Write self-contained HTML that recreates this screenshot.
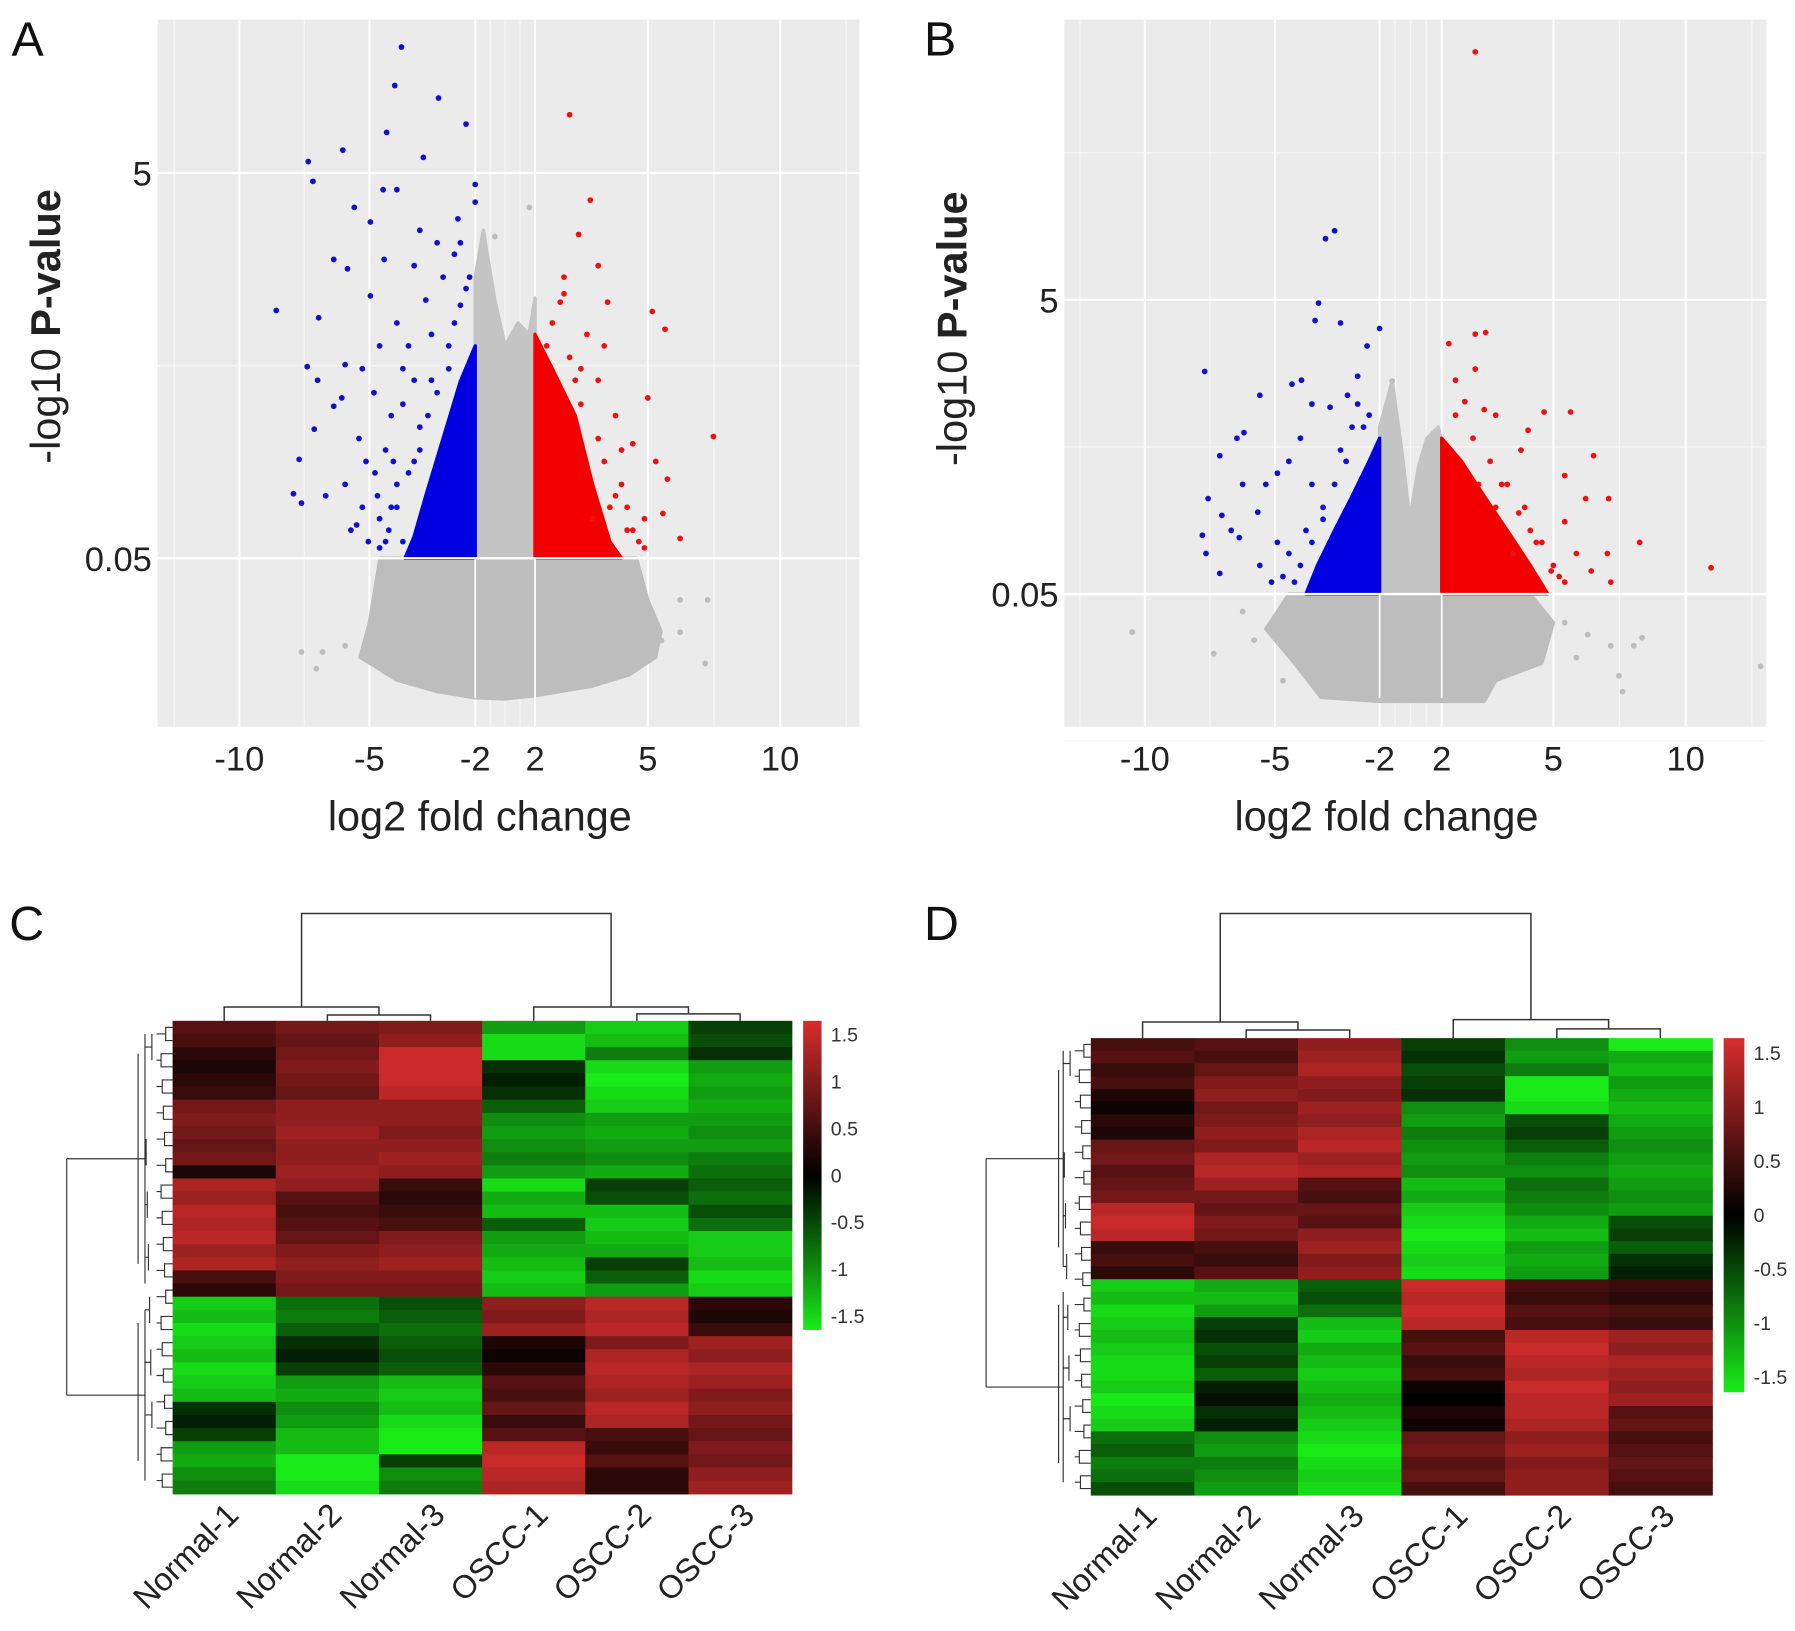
<!DOCTYPE html>
<html><head><meta charset="utf-8">
<style>
html,body{margin:0;padding:0;background:#fff;}
svg{display:block;font-family:"Liberation Sans",Arial,sans-serif;}
</style></head>
<body>
<svg id="fig" width="1795" height="1631" viewBox="0 0 1560 1414" preserveAspectRatio="none" xmlns="http://www.w3.org/2000/svg"></svg>
<script>
// ---------- Volcano A data ----------
const aXTickVals = [-10,-5,-2,2,5,10];
const aXTickLabels = ["-10","-5","-2","2","5","10"];
const aYTickVals = [1.3,5];
const aYTickLabels = ["0.05","5"];
const aBlueFc = [-4.09,-4.28,-3.04,-2.26,-4.51,-3.47,-7.35,-6.02,-7.17,-4.22,-4.61,-5.58,-2.0,-2.0,-4.97,-3.57,-3.08,-6.37,-5.84,-4.58,-6.95,-8.58,-4.97,-2.59,-7.39,-5.93,-6.99,-6.37,-6.06,-7.12,-7.70,-7.92,-7.61,-6.68,-5.27,-4.71,-4.22,-5.40,-4.84,-4.38,-5.04,-5.93,-4.05,-3.89,-3.40,-2.91,-2.49,-2.26,-3.73,-4.54,-4.22,-3.73,-4.71,-5.49,-3.24,-2.75,-4.38,-4.87,-3.57,-4.05,-4.54,
  -2.59,-2.42,-2.16,-2.75,-3.08,-3.34,-3.57,-3.89,-4.22,-4.45,-4.71,-3.73,-4.05,-4.32,-4.77,-5.27,-5.71,-5.13,-3.24,-2.42];
const aBlueP  = [6.21,5.84,5.72,5.47,5.39,5.15,5.11,5.22,4.92,4.84,4.84,4.67,4.89,4.72,4.53,4.45,4.33,4.17,4.08,4.17,3.61,3.68,3.82,4.22,3.14,3.16,3.01,2.76,2.84,2.54,2.25,1.92,1.83,1.90,3.12,3.34,3.56,2.45,2.12,1.79,1.46,2.01,2.78,3.34,3.78,4.00,4.56,3.89,4.11,2.34,2.01,2.23,1.68,1.62,3.01,3.34,2.67,2.89,2.56,1.46,1.46,
  3.56,3.73,4.0,3.12,2.89,2.67,2.34,2.12,1.79,1.57,1.40,3.01,3.12,2.23,1.90,1.79,1.57,2.23,3.45,4.33];
const aRedFc = [2.92,3.47,3.16,3.68,2.77,2.67,3.93,5.17,5.65,3.38,3.84,5.0,7.48,4.60,5.30,5.74,4.91,5.57,6.22,4.30,3.99,4.45,4.76,4.14,3.68,3.22,4.30,
  2.46,2.31,2.92,3.07,3.22,3.68,3.84,4.14,4.45,4.60,4.91,3.53,2.77];
const aRedP  = [5.56,4.74,4.41,4.11,3.84,3.76,3.76,3.67,3.50,3.45,3.34,2.84,2.47,2.40,2.23,2.06,1.68,1.73,1.49,2.01,1.79,1.57,1.46,2.67,3.01,3.12,2.34,
  3.56,3.34,3.23,3.01,2.78,2.45,2.23,1.90,1.79,1.57,1.40,1.68,4.00];
const aGrayFc = [1.62,-0.69,7.26,7.17,-7.61,-7.04,6.22,5.30,-6.8,-5.93,4.91,5.52,6.22];
const aGrayP  = [4.67,4.39,0.9,0.29,0.4,0.24,0.59,0.6,0.4,0.46,0.9,0.51,0.9];
const aBlueDense = [[-2,1.3],[-2,3.34],[-2.42,3.0],[-2.91,2.45],[-3.4,1.9],[-3.73,1.51],[-3.99,1.3]];
const aRedDense = [[2,1.3],[2,3.45],[2.46,3.12],[3.07,2.67],[3.53,2.01],[3.99,1.46],[4.3,1.3]];
const aGrayCenter = [[-2,1.3],[-2,4.0],[-1.46,4.45],[-0.69,3.78],[0,3.34],[0.85,3.56],[1.6,3.45],[2,3.8],[2,1.3]];
const aGrayBottom = [[-4.7,1.3],[-5.0,0.68],[-5.36,0.35],[-4.22,0.13],[-3.08,0.02],[-2,-0.04],[0,-0.05],[2,-0.02],[3.5,0.07],[4.5,0.18],[5.3,0.35],[5.5,0.6],[5.0,0.9],[4.7,1.3]];

// ---------- Volcano B data ----------
const bXTickVals = [-10,-5,-2,2,5,10];
const bXTickLabels = ["-10","-5","-2","2","5","10"];
const bYTickVals = [1.3,5];
const bYTickLabels = ["0.05","5"];
const bBlueFc = [-3.29,-3.55,-3.75,-3.85,-3.12,-2.0,-2.36,-7.70,-2.63,-4.24,-4.51,-5.58,-2.92,-3.42,-3.94,-6.19,-7.12,-6.46,-7.57,-7.04,-7.65,-7.79,-7.12,-6.37,-5.66,-5.35,-4.93,-4.60,-4.27,-3.94,-3.62,-4.93,-5.58,-4.60,-4.11,-3.12,-2.79,-2.30,-6.24,-6.68,
  -2.46,-2.96,-3.29,-3.62,-3.94,-4.27,-4.44,-4.77,-5.13,-2.63];
const bBlueP  = [5.87,5.77,4.96,4.74,4.71,4.64,4.42,4.10,4.04,3.99,3.94,3.80,3.80,3.65,3.69,3.33,3.04,3.26,2.50,2.29,1.81,2.04,1.56,2.01,2.33,2.68,2.82,2.97,3.26,2.68,2.24,1.95,1.66,1.81,2.10,3.11,3.40,3.55,2.68,2.10,
  3.40,2.97,2.68,2.39,1.95,1.66,1.45,1.52,1.45,3.69];
const bRedFc = [2.90,2.90,3.18,2.19,2.90,2.37,2.62,3.14,3.45,4.75,5.65,4.32,4.13,6.52,5.43,7.09,6.22,5.43,8.26,7.04,10.96,5.87,4.94,6.43,7.17,4.69,4.23,3.76,4.38,3.92,5.22,
  2.37,2.84,3.30,3.61,4.07,4.54,5.0,5.43,3.45,2.99];
const bRedP  = [8.12,4.57,4.59,4.45,4.13,3.99,3.72,3.62,3.55,3.59,3.59,3.36,3.11,3.04,2.79,2.50,2.50,2.21,1.95,1.81,1.63,1.81,1.59,1.59,1.45,1.95,2.39,2.68,2.10,1.81,1.52,
  3.55,3.26,2.97,2.68,2.32,1.95,1.66,1.45,2.39,2.68];
const bGrayFc = [-10.49,-7.35,8.35,12.83,7.48,8.04,5.43,-6.24,5.87,-1.19,-5.8,-4.77,6.3,7.17,7.61];
const bGrayP  = [0.82,0.55,0.75,0.39,0.27,0.65,0.94,1.08,0.5,3.98,0.72,0.21,0.79,0.65,0.07];
const bBlueDense = [[-2,1.3],[-2,3.26],[-2.30,2.97],[-2.79,2.53],[-3.29,2.10],[-3.78,1.66],[-4.11,1.3]];
const bRedDense = [[2,1.3],[2,3.26],[2.53,2.97],[3.14,2.53],[3.76,2.10],[4.38,1.66],[4.85,1.3]];
const bGrayCenter = [[-2,1.3],[-2,3.4],[-1.19,3.98],[-0.5,3.0],[-0.07,2.24],[0.5,2.9],[1.04,3.26],[1.78,3.40],[2,3.2],[2,1.3]];
const bGrayBottom = [[-4.60,1.3],[-5.35,0.86],[-4.44,0.43],[-3.68,0.0],[-2,-0.05],[2,-0.05],[3.14,-0.05],[3.45,0.21],[4.69,0.43],[5.0,0.94],[4.38,1.3]];

// ---------- Heatmap data ----------
const samples = ["Normal-1","Normal-2","Normal-3","OSCC-1","OSCC-2","OSCC-3"];
const cbTicks = [1.5,1,0.5,0,-0.5,-1,-1.5];
const cN1 = [0.6,0.5,0.3,0.2,0.3,0.4,0.8,0.9,0.8,0.7,0.8,0.2,1.2,1.1,1.3,1.2,1.3,1.1,1.2,0.5,0.3,-1.3,-1.2,-1.4,-1.3,-1.2,-1.4,-1.3,-1.2,-0.3,-0.2,-0.4,-1.0,-1.1,-0.9,-0.8];
const cN2 = [0.8,0.7,0.8,0.9,0.8,0.7,1.0,1.0,1.1,1.0,1.0,1.1,1.0,0.6,0.5,0.6,0.7,0.9,1.0,0.9,0.8,-0.7,-0.8,-0.6,-0.3,-0.2,-0.4,-1.0,-1.1,-0.9,-1.0,-1.2,-1.2,-1.5,-1.5,-1.4];
const cN3 = [0.9,1.0,1.4,1.4,1.4,1.3,1.0,1.0,0.9,1.0,1.1,1.0,0.4,0.3,0.4,0.5,0.9,1.0,1.1,0.9,0.8,-0.5,-0.6,-0.7,-0.6,-0.5,-0.6,-1.2,-1.3,-1.2,-1.4,-1.5,-1.5,-0.4,-0.9,-0.8];
const cO1 = [-1.0,-1.4,-1.4,-0.3,-0.2,-0.3,-0.6,-0.9,-1.0,-0.9,-0.8,-1.0,-1.4,-1.1,-1.2,-0.6,-1.0,-1.1,-1.2,-1.3,-1.2,1.0,0.9,1.1,0.2,0.1,0.3,0.6,0.5,0.7,0.4,0.6,1.3,1.4,1.3,1.2];
const cO2 = [-1.3,-1.2,-0.8,-1.4,-1.5,-1.4,-1.3,-1.0,-1.1,-1.0,-0.9,-1.1,-0.4,-0.5,-1.2,-1.3,-1.2,-1.1,-0.4,-0.6,-1.0,1.3,1.2,1.3,0.9,1.2,1.3,1.2,1.1,1.3,1.2,0.5,0.4,0.6,0.3,0.3];
const cO3 = [-0.4,-0.5,-0.3,-1.0,-1.1,-1.0,-1.1,-1.0,-0.9,-1.0,-0.8,-0.7,-0.6,-0.7,-0.5,-0.7,-1.3,-1.3,-1.2,-1.4,-1.3,0.3,0.2,0.4,1.1,1.0,1.2,1.1,0.9,1.0,0.8,0.7,0.9,0.8,1.0,1.1];
const dN1 = [0.5,0.6,0.4,0.5,0.2,0.1,0.3,0.2,0.7,0.8,0.6,0.7,0.8,1.3,1.4,1.3,0.4,0.5,0.3,-1.3,-1.2,-1.4,-1.3,-1.2,-1.3,-1.4,-1.4,-1.3,-1.5,-1.4,-1.3,-0.7,-0.6,-0.8,-0.7,-0.5];
const dN2 = [0.6,0.5,0.7,0.9,1.0,0.8,0.9,1.0,0.9,1.2,1.3,1.1,0.8,0.7,0.9,0.8,0.5,0.4,0.6,-1.1,-1.2,-1.0,-0.4,-0.3,-0.5,-0.4,-0.6,-0.2,-0.1,-0.3,-0.2,-0.9,-1.0,-0.8,-0.9,-1.0];
const dN3 = [1.0,1.1,1.2,1.0,0.9,1.1,1.0,1.2,1.3,1.1,1.2,0.6,0.5,0.7,0.6,1.0,1.1,0.9,1.0,-0.6,-0.5,-0.7,-1.2,-1.3,-1.1,-1.2,-1.3,-1.2,-1.1,-1.2,-1.3,-1.4,-1.5,-1.4,-1.3,-1.4];
const dO1 = [-0.4,-0.3,-0.5,-0.4,-0.3,-0.9,-1.0,-0.8,-0.9,-1.0,-0.9,-1.2,-1.1,-1.3,-1.4,-1.5,-1.4,-1.3,-1.4,1.4,1.3,1.4,1.3,0.5,0.6,0.4,0.5,0.1,0.0,0.2,0.1,0.7,0.8,0.6,0.7,0.5];
const dO2 = [-0.9,-1.0,-0.8,-1.5,-1.5,-1.4,-0.5,-0.4,-0.6,-0.8,-0.9,-0.7,-0.8,-0.9,-1.1,-1.2,-1.0,-1.1,-1.0,0.5,0.4,0.6,0.5,1.3,1.4,1.3,1.2,1.4,1.3,1.3,1.2,1.0,1.1,0.9,1.0,1.0];
const dO3 = [-1.5,-1.1,-1.2,-1.0,-1.1,-1.2,-1.1,-1.0,-0.9,-1.0,-1.1,-1.0,-0.9,-1.0,-0.5,-0.4,-0.6,-0.3,-0.2,0.4,0.3,0.5,0.4,1.1,1.0,1.2,1.1,1.0,1.1,0.6,0.7,0.5,0.6,0.7,0.6,0.5];

const NS="http://www.w3.org/2000/svg";
const svg=document.getElementById('fig');
function mk(tag,attrs,parent){const e=document.createElementNS(NS,tag);for(const k in attrs)e.setAttribute(k,attrs[k]);(parent||svg).appendChild(e);return e;}
function txt(s,attrs,parent){const e=mk('text',attrs,parent);e.textContent=s;return e;}

function piece(vals,px){return function(v){
  let i=0; if(v<=vals[0]) i=0; else if(v>=vals[vals.length-1]) i=vals.length-2; else {while(v>vals[i+1]) i++;}
  return px[i]+(v-vals[i])*(px[i+1]-px[i])/(vals[i+1]-vals[i]);};}

function volcano(cfg){
  const g=mk('g',{});
  
  
  const X=piece(cfg.xt,cfg.xpx);
  const Y=piece(cfg.yt,cfg.ypx);
  const bg=mk('rect',{x:cfg.L,y:cfg.T,width:cfg.R-cfg.L,height:cfg.B-cfg.T,fill:'#ebebeb'},g);
  
  
  cfg.minorX.forEach(v=>mk('line',{x1:X(v),x2:X(v),y1:cfg.T,y2:cfg.B,stroke:'#f6f6f6','stroke-width':1},g));
  cfg.minorY.forEach(v=>mk('line',{x1:cfg.L,x2:cfg.R,y1:Y(v),y2:Y(v),stroke:'#f6f6f6','stroke-width':1.2},g));
  cfg.xt.forEach(v=>mk('line',{x1:X(v),x2:X(v),y1:cfg.T,y2:cfg.B,stroke:'#fff','stroke-width':1.8},g));
  cfg.yt.forEach(v=>mk('line',{x1:cfg.L,x2:cfg.R,y1:Y(v),y2:Y(v),stroke:'#fff','stroke-width':2},g));
  function poly(pts,fill,name){const p=mk('polygon',{points:pts.map(q=>X(q[0])+','+Y(q[1])).join(' '),fill:fill,stroke:fill,'stroke-width':3,'stroke-linejoin':'round'},g);
    
    }
  poly(cfg.grayBottom,'#bdbdbd','gray-dense-cloud');
  poly(cfg.grayCenter,'#c4c4c4','gray-center-cloud');
  poly(cfg.blueDense,'#0000e0','blue-dense-cloud');
  poly(cfg.redDense,'#f20000','red-dense-cloud');
  [cfg.xt[2],cfg.xt[3]].forEach(v=>mk('line',{x1:X(v),x2:X(v),y1:Y(1.3),y2:cfg.B-25,stroke:'#fff','stroke-width':1.5},g));
  mk('line',{x1:cfg.L,x2:cfg.R,y1:Y(1.3),y2:Y(1.3),stroke:'#fff','stroke-width':2},g);
  function pts(fc,p,col,name){for(let i=0;i<fc.length;i++){const c=mk('circle',{cx:X(fc[i]),cy:Y(p[i]),r:2.5,fill:col},g);
    
    }}
  pts(cfg.grayFc,cfg.grayP,'#bdbdbd','gray-point');
  pts(cfg.blueFc,cfg.blueP,'#1010d0','down-point');
  pts(cfg.redFc,cfg.redP,'#ee1111','up-point');
  for(let i=0;i<cfg.xt.length;i++){const t=txt(cfg.xl[i],{x:X(cfg.xt[i]),y:668,'font-size':30,'text-anchor':'middle',fill:'#222'},g);
    
    }
  for(let i=0;i<cfg.yt.length;i++){const t=txt(cfg.yl[i],{x:cfg.L-5,y:Y(cfg.yt[i])+11,'font-size':30,'text-anchor':'end',fill:'#222'},g);
    
    }
  const xt=txt('log2 fold change',{x:(cfg.L+cfg.R)/2-25,y:720,'font-size':36,'text-anchor':'middle',fill:'#222'},g);
  
  
  const yt=mk('text',{x:0,y:0,'font-size':36,'text-anchor':'middle',fill:'#222',transform:`translate(${cfg.yTitleX},${cfg.yTitleY}) rotate(-90)`},g);
  
  
  const s1=mk('tspan',{},yt);s1.textContent='-log10 ';
  const s2=mk('tspan',{'font-weight':'bold'},yt);s2.textContent='P-value';
}

volcano({name:'volcano-plot-a',L:137,R:747,T:17,B:630,xt:aXTickVals,xl:aXTickLabels,xpx:[208,321,413,465,563,678],
  yt:aYTickVals,yl:aYTickLabels,ypx:[484,150],minorX:[-12.5,-7.5,-1,0,1,7.5,12.5],minorY:[3.15,6.85],
  blueFc:aBlueFc,blueP:aBlueP,redFc:aRedFc,redP:aRedP,grayFc:aGrayFc,grayP:aGrayP,
  blueDense:aBlueDense,redDense:aRedDense,grayCenter:aGrayCenter,grayBottom:aGrayBottom,yTitleX:52,yTitleY:283});
volcano({name:'volcano-plot-b',L:925,R:1535,T:17,B:630,xt:bXTickVals,xl:bXTickLabels,xpx:[995,1108,1199,1253,1350,1465],
  yt:bYTickVals,yl:bYTickLabels,ypx:[515,260],minorX:[-12.5,-7.5,-1,0,1,7.5,12.5],minorY:[-0.55,3.15,6.85],
  blueFc:bBlueFc,blueP:bBlueP,redFc:bRedFc,redP:bRedP,grayFc:bGrayFc,grayP:bGrayP,
  blueDense:bBlueDense,redDense:bRedDense,grayCenter:bGrayCenter,grayBottom:bGrayBottom,yTitleX:840,yTitleY:285});

function color(v){const t=Math.max(-1,Math.min(1,v/1.5));
  if(t>=0) return `rgb(${Math.round(215*t)},${Math.round(45*t)},${Math.round(45*t)})`;
  const s=-t; return `rgb(${Math.round(25*s)},${Math.round(235*s)},${Math.round(25*s)})`;}

function heatmap(cfg){
  const g=mk('g',{});
  
  
  const cols=cfg.cols, nr=cols[0].length, cw=(cfg.R-cfg.L)/cols.length, rh=(cfg.B-cfg.T)/nr;
  cols.forEach((col,ci)=>col.forEach((v,ri)=>{
    const r=mk('rect',{x:cfg.L+ci*cw,y:cfg.T+ri*rh,width:cw+0.6,height:rh+0.6,fill:color(v)},g);
    
    }));
  const cx=i=>cfg.L+(i+0.5)*cw;
  const dg=mk('g',{stroke:'#333','stroke-width':1.3,fill:'none'},g);
  
  
  const T=cfg.T, d=cfg.cd;
  const n23=(cx(1)+cx(2))/2, nA=(cx(0)+n23)/2, o23=(cx(4)+cx(5))/2, oA=(cx(3)+o23)/2;
  const path=`M${cx(0)},${T} V${d.n} H${n23} V${d.n2} M${cx(1)},${T} V${d.n2} H${cx(2)} V${T}`+
   ` M${cx(3)},${T} V${d.o} H${o23} V${d.o2} M${cx(4)},${T} V${d.o2} H${cx(5)} V${T}`+
   ` M${nA},${d.n} V${d.top} H${oA} V${d.o}`;
  mk('path',{d:path},dg);
  const rg=mk('g',{stroke:'#333','stroke-width':1,fill:'none'},g);
  
  
  const L=cfg.L, split=cfg.split;
  let p='';
  for(let i=0;i<nr;i+=2){const y1=T+(i+0.5)*rh,y2=T+(i+1.5)*rh;const xx=L-6-((i*7)%5);
    p+=`M${L},${y1} H${xx} V${y2} H${L} M${xx},${(y1+y2)/2} H${L-14-((i*3)%6)} `;}
  for(let i=0;i<nr;i+=4){const y1=T+(i+1)*rh,y2=T+Math.min(i+3,nr-1)*rh;const xx=L-18-((i*5)%7);
    p+=`M${xx},${y1} V${y2} M${xx},${(y1+y2)/2} H${L-24} `;}
  const yTop=T+split*rh/2, yBot=T+split*rh+(nr-split)*rh/2;
  p+=`M${L-24},${T+rh} V${T+(split-1)*rh} M${L-24},${T+(split+1)*rh} V${T+(nr-1)*rh} `;
  p+=`M${cfg.dx2},${T+rh*2.5} V${T+(split-2.5)*rh} M${cfg.dx2},${T+(split+2)*rh} V${T+(nr-2.5)*rh} `;
  p+=`M${cfg.dx2},${yTop} H${L-24} M${cfg.dx2},${yBot} H${L-24} `;
  p+=`M${cfg.dx1},${yTop} V${yBot} M${cfg.dx1},${yTop} H${cfg.dx2} M${cfg.dx1},${yBot} H${cfg.dx2}`;
  mk('path',{d:p},rg);
  const gid='grad-'+cfg.name;
  const defs=mk('defs',{},g);
  const lg=mk('linearGradient',{id:gid,x1:0,y1:0,x2:0,y2:1},defs);
  mk('stop',{offset:'0','stop-color':color(1.5)},lg);
  mk('stop',{offset:'0.5','stop-color':'#000'},lg);
  mk('stop',{offset:'1','stop-color':color(-1.5)},lg);
  const cb=mk('rect',{x:cfg.cbx,y:cfg.cbT,width:cfg.cbw,height:cfg.cbB-cfg.cbT,fill:`url(#${gid})`},g);
  
  
  const cbY=v=>cfg.cbT+(1.5-v)/3*(cfg.cbB-cfg.cbT-cfg.cbPad*2)+cfg.cbPad;
  cbTicks.forEach(v=>{const t=txt(String(v),{x:cfg.cbx+cfg.cbw+8,y:cbY(v)+6,'font-size':17,fill:'#333'},g);
    
    });
  samples.forEach((s,i)=>{const t=txt(s,{x:0,y:0,'font-size':28,'text-anchor':'end',fill:'#222',
    transform:`translate(${cx(i)+14},${cfg.B+20}) rotate(-45)`},g);
    
    });
}
heatmap({name:'heatmap-c',L:150,R:688,T:885,B:1295,cols:[cN1,cN2,cN3,cO1,cO2,cO3],split:21,
  cd:{top:792,n:873,n2:880,o:873,o2:879},dx1:58,dx2:120,cbx:698,cbw:16,cbT:885,cbB:1153,cbPad:12});
heatmap({name:'heatmap-d',L:948,R:1488,T:900,B:1296,cols:[dN1,dN2,dN3,dO1,dO2,dO3],split:19,
  cd:{top:792,n:886,n2:893,o:884,o2:892},dx1:857,dx2:920,cbx:1498,cbw:18,cbT:900,cbB:1207,cbPad:13});

[['A',10,48],['B',803,48],['C',8,815],['D',803,815]].forEach(a=>{
  const t=txt(a[0],{x:a[1],y:a[2],'font-size':42,fill:'#111'});
  
  
});
</script>
</body></html>
